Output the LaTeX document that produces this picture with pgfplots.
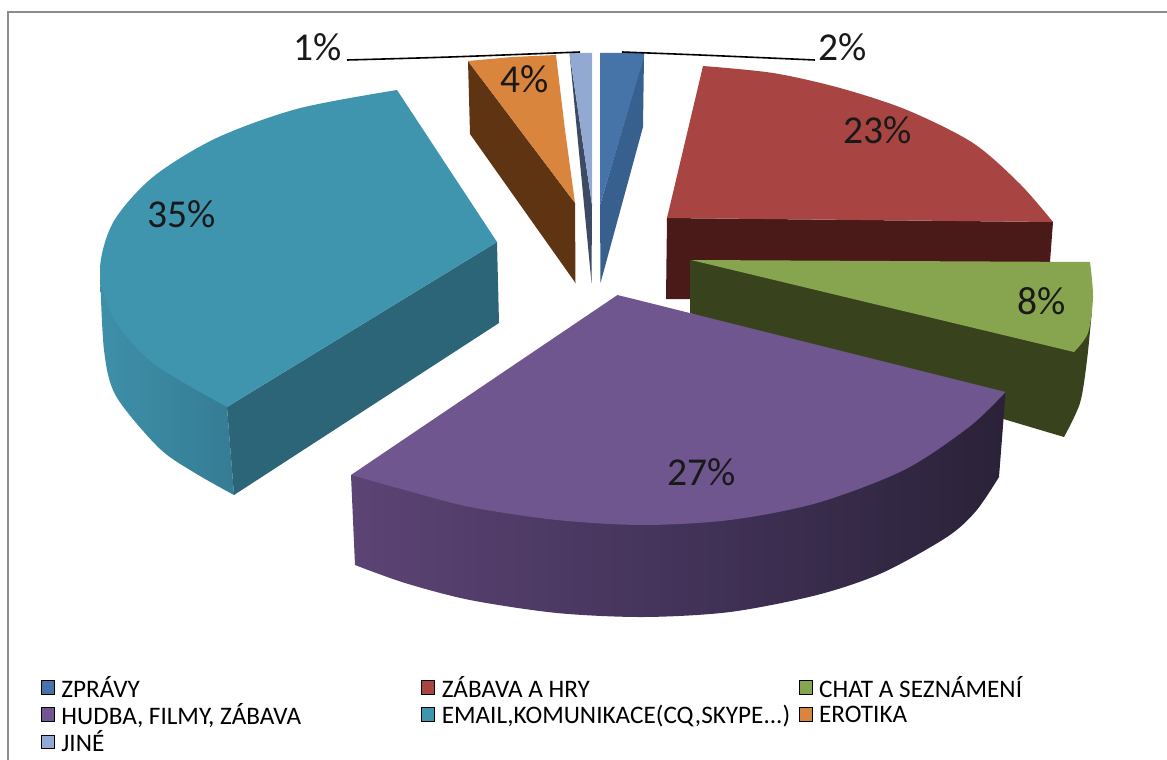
\documentclass[border=0pt]{standalone}
\usepackage{pgfplots}
\pgfplotsset{compat=1.18}
\usepackage{fontspec}
\setmainfont{Carlito}
\definecolor{cBlue}{HTML}{4674A8}
\definecolor{cBlueS}{HTML}{38608F}
\definecolor{cRed}{HTML}{A84543}
\definecolor{cRedS}{HTML}{4A1A18}
\definecolor{cGreen}{HTML}{87A54F}
\definecolor{cGreenS}{HTML}{38431D}
\definecolor{cPurple}{HTML}{70568F}
\definecolor{cPurpleL}{HTML}{5C4474}
\definecolor{cPurpleM}{HTML}{43335A}
\definecolor{cPurpleR}{HTML}{2A2238}
\definecolor{cCyan}{HTML}{3F94AE}
\definecolor{cCyanS}{HTML}{2D6578}
\definecolor{cCyanL}{HTML}{3E8FA9}
\definecolor{cCyanR}{HTML}{357C94}
\definecolor{cOrange}{HTML}{DA853D}
\definecolor{cOrangeS}{HTML}{5E3413}
\definecolor{cSky}{HTML}{92A9D2}
\definecolor{cSkyS}{HTML}{3D4A63}
\definecolor{cFrame}{HTML}{8C8C8C}
\tikzset{lab/.style={font=\fontsize{39.5}{40}\selectfont,inner sep=0pt,text=black!90}}
\newcommand{\lgd}[2]{\makebox[#1][l]{\hspace{5pt}#2}}
\begin{document}
\begin{tikzpicture}
\begin{axis}[
  width=1167pt,height=760pt,scale only axis,
  xmin=0,xmax=1167,ymin=0,ymax=760,y dir=reverse,
  axis lines=none,clip=true,
  every axis plot/.append style={forget plot},
  legend columns=3,
  legend cell align=left,
  legend style={at={(axis cs:41,674)},anchor=north west,draw=none,fill=none,
    inner sep=0pt,outer sep=0pt,
    font=\fontsize{25.2}{25.2}\selectfont,
    /tikz/every even column/.append style={column sep=0pt},
    row sep=0.8pt},
  legend image code/.code={\fill[#1] (2.5pt,-6.5pt) rectangle (15.5pt,7pt);},
]
\addlegendimage{fill=cBlue}\addlegendentry{\lgd{363pt}{ZPRÁVY}}
\addlegendimage{fill=cRed}\addlegendentry{\lgd{360pt}{ZÁBAVA A HRY}}
\addlegendimage{fill=cGreen}\addlegendentry{\lgd{300pt}{CHAT A SEZNÁMENÍ}}
\addlegendimage{fill=cPurple}\addlegendentry{\lgd{363pt}{HUDBA, FILMY, ZÁBAVA}}
\addlegendimage{fill=cCyan}\addlegendentry{\lgd{360pt}{EMAIL,KOMUNIKACE(CQ,SKYPE...)}}
\addlegendimage{fill=cOrange}\addlegendentry{\lgd{300pt}{EROTIKA}}
\addlegendimage{fill=cSky}\addlegendentry{\lgd{363pt}{JINÉ}}
% page extent
\addplot[draw=none] coordinates {(0,0)(1167,760)};
% frame
\addplot[draw=cFrame,line width=1.5pt] coordinates {(8,760)(8,12)(1167,12)};
% RED
\addplot[fill=cRedS,draw=none] coordinates {(667,218)(1053,222)(1050,262)(1050,300)(666,299)} --cycle;
\addplot[fill=cRed,draw=none,smooth] coordinates {(703,66)(773,73)(840,88)(907,110)(973,143)(1020,184)(1053,222)} -- (axis cs:667,218) -- cycle;
% GREEN
\addplot[fill=cGreenS,draw=none,smooth] coordinates {(1092,310)(1087,360)(1080,403)(1064,437)} -- (axis cs:1000,418) -- (axis cs:690,313) -- (axis cs:690,260) -- cycle;
\addplot[fill=cGreen,draw=none,smooth] coordinates {(1090,262)(1093,297)(1088,333)(1074,352)} -- (axis cs:691,260) -- cycle;
% PURPLE
\addplot[left color=cPurpleL,right color=cPurpleR,middle color=cPurpleM,draw=none,smooth] coordinates {(355,565)(405,583)(470,600)(557,613)(643.6,617)(730,612)(817,595)(882,573)(947,537)(976,511)(999,477)} -- (axis cs:1005.6,392) -- (axis cs:351,475) -- cycle;
\addplot[fill=cPurple,draw=none,smooth] coordinates {(1005.6,392)(969,427)(904,470)(817,503)(730,520)(643.6,525)(557,520)(470,507)(405,490)(351,475)} -- (axis cs:617.5,295) -- cycle;
% CYAN
\addplot[left color=cCyanL,right color=cCyanR,draw=none,smooth] coordinates {(100,270)(104,350)(116,396)(159,448)(195,473)(234,495)} -- (axis cs:227,407) -- (axis cs:227,300) -- cycle;
\addplot[fill=cCyanS,draw=none] coordinates {(227,407)(497,242)(499,323)(234,495)} --cycle;
\addplot[fill=cCyan,draw=none,smooth] coordinates {(397,90)(298.5,108.5)(216.3,138.1)(153.2,176.8)(113.5,221.7)(100,270)(113.5,318.3)(153.2,363.3)(227,407)} -- (axis cs:497,242) -- cycle;
% ORANGE
\addplot[fill=cOrangeS,draw=none] coordinates {(468,61)(575,203)(575.5,283)(470,134)} --cycle;
\addplot[fill=cOrange,draw=none] coordinates {(468,61)(512,57)(556,55)(565,130)(575,203)} --cycle;
% JINE
\addplot[fill=cSkyS,draw=none] coordinates {(569.5,53)(592,205)(591.5,283)} --cycle;
\addplot[fill=cSky,draw=none] coordinates {(569.5,53)(592,53)(592,205)} --cycle;
% BLUE
\addplot[fill=cBlueS,draw=none] coordinates {(644,55)(643,127)(600.5,283)(600,205)} --cycle;
\addplot[fill=cBlue,draw=none] coordinates {(600,53)(644,53)(644,57)(600,205)} --cycle;
% leaders
\addplot[black,line width=1.6pt,smooth] coordinates {(347,60)(450,57)(580,52)};
\addplot[black,line width=1.6pt,smooth] coordinates {(622,52)(700,55)(815,60)};
% labels
\node[lab] at (axis cs:318,47) {1\%};
\node[lab] at (axis cs:843,47) {2\%};
\node[lab] at (axis cs:525,79) {4\%};
\node[lab] at (axis cs:878,130) {23\%};
\node[lab] at (axis cs:1042,301) {8\%};
\node[lab] at (axis cs:702,472) {27\%};
\node[lab] at (axis cs:182,214) {35\%};
\end{axis}
\end{tikzpicture}
\end{document}
